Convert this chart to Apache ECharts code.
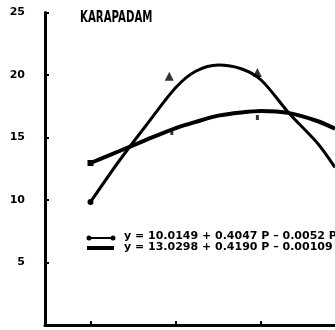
<!DOCTYPE html>
<html>
<head>
<meta charset="utf-8">
<script src="https://cdn.jsdelivr.net/npm/echarts@6/dist/echarts.min.js"></script>
<style>
  html, body { margin: 0; padding: 0; background: #fff; }
  #chart { width: 335px; height: 330px; }
</style>
</head>
<body>
<div id="chart"></div>
<script>
// P values along the horizontal axis
const pValues = [0, 10, 20, 30, 37, 45, 53, 60, 70, 80, 86];
// Fitted curve with the steeper rise and fall
const curveSteep = [9.84, 13.1, 16.1, 19.0, 20.3, 20.8, 20.5, 19.6, 16.9, 14.5, 12.6];
// Fitted curve with the flatter shape
const curveFlat = [12.96, 13.9, 14.85, 15.75, 16.25, 16.75, 17.0, 17.12, 16.95, 16.3, 15.7];
// Observed points (triangles)
const obsP = [27.7, 58.7];
const obsY = [19.9, 20.2];
// Small observed marks on the flat curve
const flatObsP = [28.6, 58.7];
const flatObsY = [15.4, 16.6];
// Axis ticks
const xTicks = [0, 30, 60];

const title = 'KARAPADAM';
const eq1 = 'y = 10.0149 + 0.4047 P – 0.0052 P²';
const eq2 = 'y = 13.0298 + 0.4190 P – 0.00109 P²';

const chart = echarts.init(document.getElementById('chart'), null, { renderer: 'canvas' });

const pairs = (xs, ys) => xs.map((x, i) => [x, ys[i]]);

const steepData = pairs(pValues, curveSteep);
steepData[0] = { value: steepData[0], symbol: 'circle', symbolSize: 6 };
const flatData = pairs(pValues, curveFlat);
flatData[0] = { value: flatData[0], symbol: 'rect', symbolSize: 6 };

chart.setOption({
  animation: false,
  backgroundColor: '#fff',
  grid: { left: 45, right: 0, top: 12.5, bottom: 5, containLabel: false },
  xAxis: {
    type: 'value', min: -16, max: 86,
    axisLine: { show: true, onZero: false, lineStyle: { color: '#000', width: 3 } },
    axisTick: { show: true, inside: true, length: 4, customValues: xTicks, lineStyle: { color: '#000', width: 2 } },
    axisLabel: { show: false },
    splitLine: { show: false }
  },
  yAxis: {
    type: 'value', min: 0, max: 25, interval: 5,
    axisLine: { show: true, onZero: false, lineStyle: { color: '#000', width: 3 } },
    axisTick: { show: true, inside: true, length: 4, lineStyle: { color: '#000', width: 2 } },
    axisLabel: {
      show: true, color: '#000', fontFamily: 'DejaVu Sans', fontWeight: 'bold', fontSize: 11, margin: 20,
      formatter: v => (v === 0 ? '' : String(v))
    },
    splitLine: { show: false }
  },
  graphic: [
    { type: 'text', x: 80, y: 11, scaleX: 0.68,
      style: { text: title, fill: '#000', font: 'bold 15px "DejaVu Sans"' } },
    { type: 'line', shape: { x1: 88, y1: 238, x2: 114, y2: 238 }, style: { stroke: '#000', lineWidth: 2 } },
    { type: 'circle', shape: { cx: 89, cy: 238, r: 2.5 }, style: { fill: '#000' } },
    { type: 'circle', shape: { cx: 113, cy: 238, r: 2.5 }, style: { fill: '#000' } },
    { type: 'line', shape: { x1: 87, y1: 248, x2: 114, y2: 248 }, style: { stroke: '#000', lineWidth: 4 } },
    { type: 'text', left: 124, top: 231,
      style: { text: eq1, fill: '#000', font: 'bold 11px "DejaVu Sans"' } },
    { type: 'text', left: 124, top: 242,
      style: { text: eq2, fill: '#000', font: 'bold 11px "DejaVu Sans"' } }
  ],
  series: [
    {
      type: 'line', data: steepData, smooth: 0.3, showSymbol: true, symbol: 'none',
      lineStyle: { color: '#000', width: 3 }, itemStyle: { color: '#000' }, z: 3
    },
    {
      type: 'line', data: flatData, smooth: 0.3, showSymbol: true, symbol: 'none',
      lineStyle: { color: '#000', width: 4 }, itemStyle: { color: '#000' }, z: 3
    },
    {
      type: 'scatter', data: pairs(obsP, obsY), symbol: 'triangle', symbolSize: 9,
      itemStyle: { color: '#000' }, z: 4
    },
    {
      type: 'scatter', data: pairs(flatObsP, flatObsY), symbol: 'rect', symbolSize: [3, 5],
      itemStyle: { color: '#000' }, z: 4
    }
  ]
});
</script>
</body>
</html>
